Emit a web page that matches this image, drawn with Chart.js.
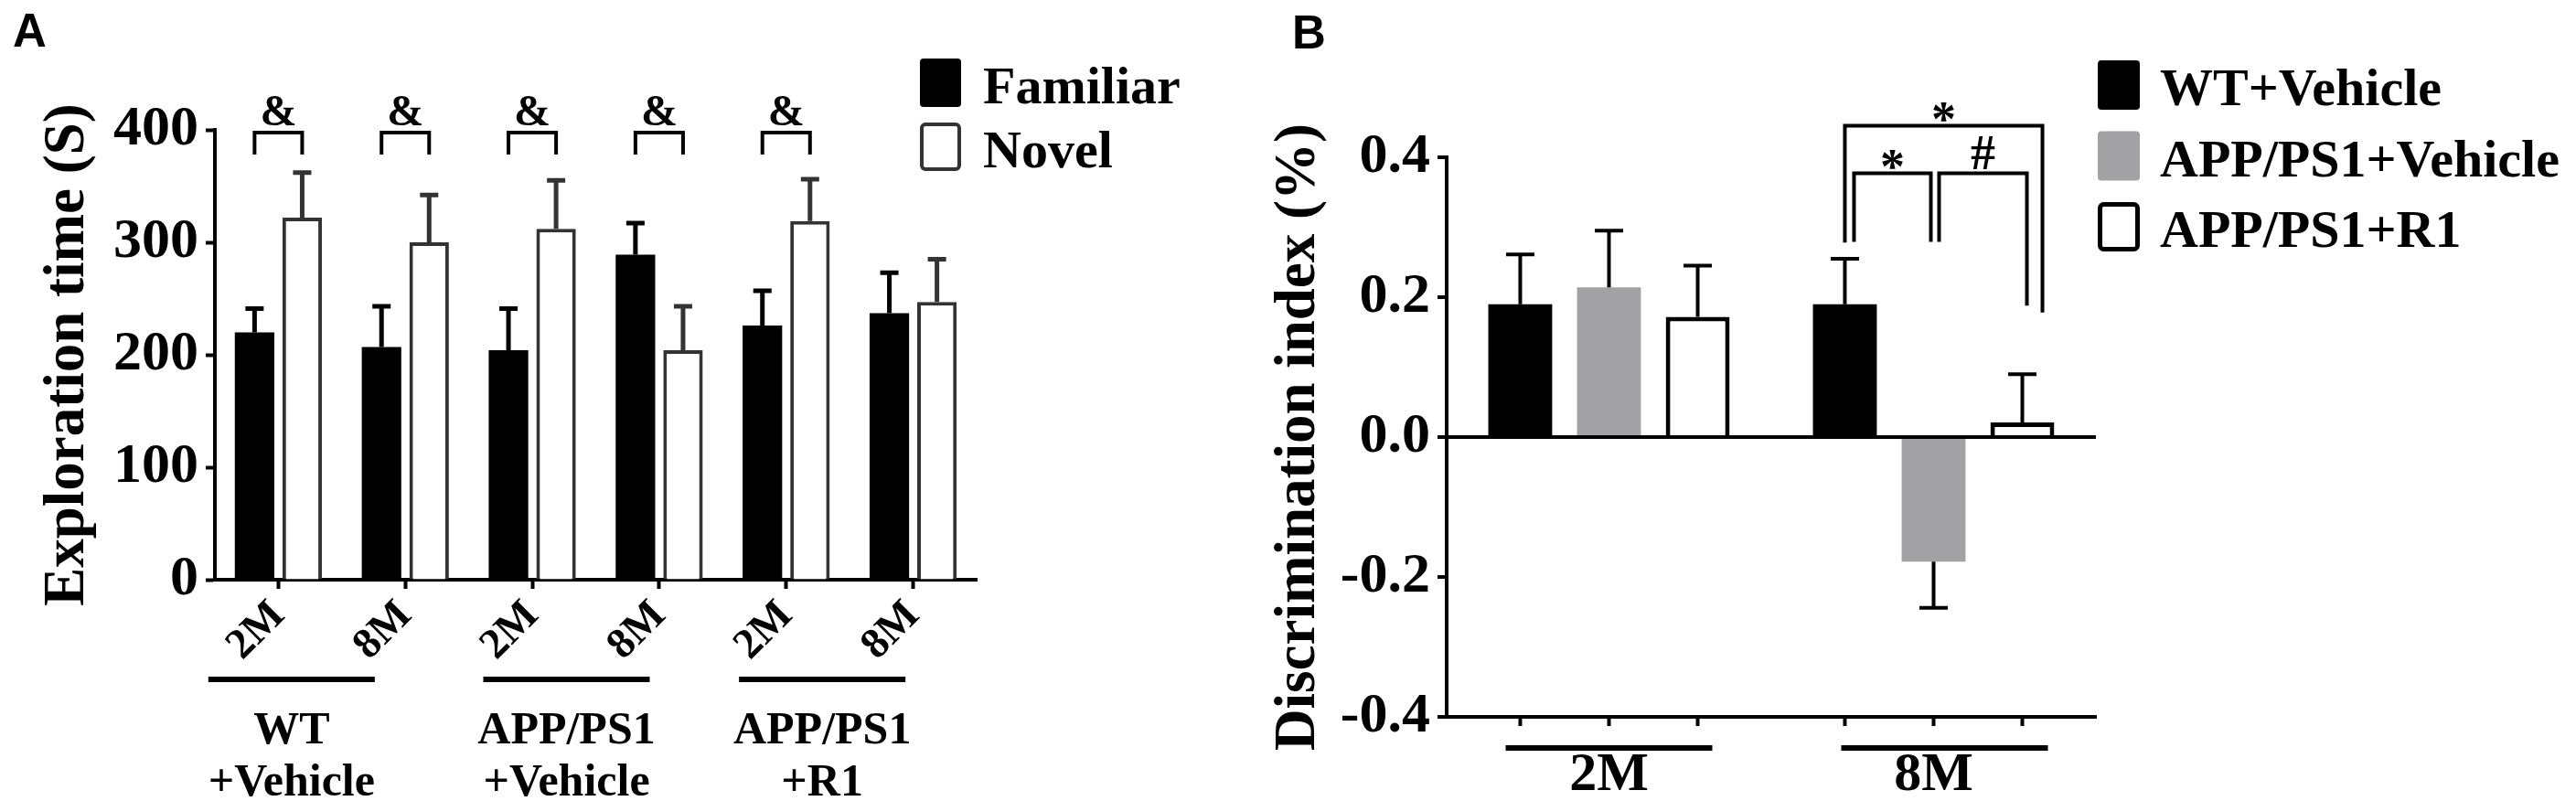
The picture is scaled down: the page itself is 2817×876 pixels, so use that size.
<!DOCTYPE html>
<html>
<head>
<meta charset="utf-8">
<title>Novel object recognition</title>
<script src="https://cdn.jsdelivr.net/npm/chart.js@4.4.1/dist/chart.umd.min.js"></script>
<style>
  html, body { margin: 0; padding: 0; background: #fff; }
  body { width: 2817px; height: 876px; position: relative; overflow: hidden; }
  canvas { position: absolute; top: 0; }
  #chartA { left: 0; }
  #chartB { left: 1370px; }
  .tag { position: absolute; font: bold 51px 'Liberation Sans', Arial, sans-serif; line-height: 1; }
</style>
</head>
<body>
<div class="tag" style="left:14px; top:8px;">A</div>
<div class="tag" style="left:1413px; top:10px;">B</div>
<canvas id="chartA" width="1370" height="876"></canvas>
<canvas id="chartB" width="1447" height="876"></canvas>
<script>
// ---- panel A: exploration time ----
const ageLabelsA = ['2M', '8M', '2M', '8M', '2M', '8M'];
const groupTextA = [['WT', '+Vehicle'], ['APP/PS1', '+Vehicle'], ['APP/PS1', '+R1']];
const familiarMean = [220, 207, 204, 289, 226, 237];
const familiarSem = [21, 36, 37, 28, 31, 36];
const novelMean = [322, 300, 312, 204, 319, 247];
const novelSem = [40, 42, 43, 39, 37, 38];
const yTicksA = [0, 100, 200, 300, 400];
const ampersandAt = [0, 1, 2, 3, 4];

// ---- panel B: discrimination index ----
const ageLabelsB = ['2M', '8M'];
const wtVehicle = [0.19, 0.19];
const wtVehicleSem = [0.071, 0.065];
const appVehicle = [0.214, -0.178];
const appVehicleSem = [0.081, 0.066];
const appR1 = [0.172, 0.021];
const appR1Sem = [0.073, 0.069];
const yTicksB = [-0.4, -0.2, 0, 0.2, 0.4];
// bracket ends are [dataset, category]
const sigMarksB = [
    { left: [0, 1], right: [2, 1], top: 0.445, legs: [0.278, 0.178], mark: '*' },
    { left: [0, 1], right: [1, 1], top: 0.377, legs: [0.279, 0.279], mark: '*' },
    { left: [1, 1], right: [2, 1], top: 0.377, legs: [0.279, 0.188], mark: '#' }
];

const SERIF = "'Liberation Serif', 'Times New Roman', serif";
Chart.defaults.font.family = SERIF;
Chart.defaults.font.weight = 'bold';
Chart.defaults.color = '#000';

// serif bold font object for chart options
const serif = size => ({ family: SERIF, weight: 'bold', size: size });

const errorBars = {
    id: 'errorBars',
    afterDatasetsDraw(chart, args, opts) {
        const ctx = chart.ctx;
        const y = chart.scales.y;
        chart.data.datasets.forEach((ds, i) => {
            if (!ds.errors) return;
            const meta = chart.getDatasetMeta(i);
            ctx.save();
            ctx.strokeStyle = ds.errorColor || '#000';
            ctx.lineWidth = opts.lineWidth;
            meta.data.forEach((bar, j) => {
                const v = ds.data[j];
                const tip = y.getPixelForValue(v >= 0 ? v + ds.errors[j] : v - ds.errors[j]);
                ctx.beginPath();
                ctx.moveTo(bar.x, bar.y);
                ctx.lineTo(bar.x, tip);
                ctx.moveTo(bar.x - opts.capWidth / 2, tip);
                ctx.lineTo(bar.x + opts.capWidth / 2, tip);
                ctx.stroke();
            });
            ctx.restore();
        });
    }
};

const boxLegend = {
    id: 'boxLegend',
    afterDraw(chart, args, opts) {
        const ctx = chart.ctx;
        ctx.save();
        ctx.font = `bold ${opts.fontSize}px ${SERIF}`;
        chart.data.datasets.forEach((ds, i) => {
            const top = opts.top + i * opts.rowStep;
            const bw = ds.legendBorder || 0;
            ctx.beginPath();
            ctx.roundRect(opts.x + bw / 2, top + bw / 2, opts.boxW - bw, opts.boxH - bw, 4);
            ctx.fillStyle = ds.backgroundColor;
            ctx.fill();
            if (bw) {
                ctx.lineWidth = bw;
                ctx.strokeStyle = ds.borderColor;
                ctx.stroke();
            }
            ctx.fillStyle = '#000';
            ctx.textBaseline = 'alphabetic';
            ctx.fillText(ds.label, opts.textX, top + opts.baseline);
        });
        ctx.restore();
    }
};

const groupAxis = {
    id: 'groupAxis',
    afterDraw(chart, args, opts) {
        const ctx = chart.ctx;
        const x = chart.scales.x;
        const base = chart.chartArea.bottom;
        ctx.save();
        ctx.strokeStyle = '#000';
        ctx.fillStyle = '#000';
        if (opts.barTicks) {
            ctx.lineWidth = 4;
            chart.data.datasets.forEach((ds, i) => {
                chart.getDatasetMeta(i).data.forEach(bar => {
                    ctx.beginPath();
                    ctx.moveTo(bar.x, base);
                    ctx.lineTo(bar.x, base + opts.barTicks);
                    ctx.stroke();
                });
            });
        }
        opts.spans.forEach((span, g) => {
            const mid = (x.getPixelForValue(span[0]) + x.getPixelForValue(span[1])) / 2 + opts.shift[g];
            ctx.lineWidth = 6;
            ctx.beginPath();
            ctx.moveTo(mid - opts.halfWidth, base + opts.lineY);
            ctx.lineTo(mid + opts.halfWidth, base + opts.lineY);
            ctx.stroke();
            if (opts.text) {
                ctx.font = `bold ${opts.fontSize}px ${SERIF}`;
                ctx.textAlign = 'center';
                ctx.textBaseline = 'alphabetic';
                opts.text[g].forEach((t, k) => ctx.fillText(t, mid, base + opts.textY[k]));
            }
        });
        ctx.restore();
    }
};

const sigBrackets = {
    id: 'sigBrackets',
    afterDraw(chart, args, opts) {
        const ctx = chart.ctx;
        const y = chart.scales.y;
        const barX = (ref) => chart.getDatasetMeta(ref[0]).data[ref[1]].x;
        ctx.save();
        ctx.strokeStyle = '#000';
        ctx.fillStyle = '#000';
        ctx.lineWidth = opts.lineWidth;
        ctx.font = `bold ${opts.fontSize}px ${SERIF}`;
        ctx.textAlign = 'center';
        opts.marks.forEach((m, i) => {
            const nudge = opts.nudge ? opts.nudge[i] : [0, 0];
            const x1 = barX(m.left) + nudge[0];
            const x2 = barX(m.right) + nudge[1];
            const yt = y.getPixelForValue(m.top);
            ctx.beginPath();
            ctx.moveTo(x1, y.getPixelForValue(m.legs[0]));
            ctx.lineTo(x1, yt);
            ctx.lineTo(x2, yt);
            ctx.lineTo(x2, y.getPixelForValue(m.legs[1]));
            ctx.stroke();
            const tm = ctx.measureText(m.mark);
            ctx.fillText(m.mark, (x1 + x2) / 2, yt - opts.gap - tm.actualBoundingBoxDescent);
        });
        ctx.restore();
    }
};

new Chart(document.getElementById('chartA'), {
    type: 'bar',
    data: {
        labels: ageLabelsA,
        datasets: [
            { label: 'Familiar', data: familiarMean, errors: familiarSem, errorColor: '#000',
              backgroundColor: '#000', borderColor: '#000', borderWidth: 0 },
            { label: 'Novel', data: novelMean, errors: novelSem, errorColor: '#333',
              backgroundColor: '#fff', borderColor: '#333', borderWidth: 4, legendBorder: 4 }
        ]
    },
    options: {
        responsive: false,
        animation: false,
        categoryPercentage: 0.75,
        barPercentage: 0.83,
        layout: { padding: { left: 0, top: 142, right: 302, bottom: 0 } },
        scales: {
            x: {
                grid: { drawOnChartArea: false, offset: false, tickLength: 10, tickWidth: 4, tickColor: '#000' },
                border: { color: '#000', width: 4 },
                ticks: { autoSkip: false, minRotation: 45, maxRotation: 45, padding: 2, color: '#000', font: serif(47) },
                afterFit: s => { s.height = 242; }
            },
            y: {
                min: 0,
                max: 400,
                afterBuildTicks: s => { s.ticks = yTicksA.map(v => ({ value: v })); },
                grid: { drawOnChartArea: false, tickLength: 10, tickWidth: 4, tickColor: '#000' },
                border: { color: '#000', width: 4 },
                ticks: { padding: 8, color: '#000', font: serif(62) },
                title: { display: true, text: 'Exploration time (S)', color: '#000', font: serif(63), padding: { top: 37, bottom: 0 } },
                afterFit: s => { s.width = 235; }
            }
        },
        plugins: {
            legend: { display: false },
            tooltip: { enabled: false },
            errorBars: { lineWidth: 5, capWidth: 20 },
            boxLegend: { x: 1006, top: 64, rowStep: 70, boxW: 45, boxH: 53, textX: 1075, baseline: 49, fontSize: 58 },
            groupAxis: { spans: [[0, 1], [2, 3], [4, 5]], shift: [-55, -32, -30], halfWidth: 91,
                         lineY: 109, text: groupTextA, textY: [179, 236], fontSize: 50 },
            sigBrackets: {
                marks: ampersandAt.map(k => ({ left: [0, k], right: [1, k], top: 397.5, legs: [378, 378], mark: '&' })),
                lineWidth: 4, fontSize: 48, gap: 8
            }
        }
    },
    plugins: [errorBars, boxLegend, groupAxis, sigBrackets]
});

new Chart(document.getElementById('chartB'), {
    type: 'bar',
    data: {
        labels: ageLabelsB,
        datasets: [
            { label: 'WT+Vehicle', data: wtVehicle, errors: wtVehicleSem,
              backgroundColor: '#000', borderColor: '#000', borderWidth: 0 },
            { label: 'APP/PS1+Vehicle', data: appVehicle, errors: appVehicleSem,
              backgroundColor: '#a2a2a5', borderColor: '#a2a2a5', borderWidth: 0 },
            { label: 'APP/PS1+R1', data: appR1, errors: appR1Sem,
              backgroundColor: '#fff', borderColor: '#000', borderWidth: 5, legendBorder: 5 }
        ]
    },
    options: {
        responsive: false,
        animation: false,
        categoryPercentage: 0.82,
        barPercentage: 0.72,
        layout: { padding: { left: 0, top: 172, right: 525, bottom: 0 } },
        scales: {
            x: {
                grid: { display: false },
                border: { color: '#000', width: 4 },
                ticks: { padding: 20, color: '#000', font: serif(60) },
                afterFit: s => { s.height = 92; }
            },
            y: {
                min: -0.4,
                max: 0.4,
                afterBuildTicks: s => { s.ticks = yTicksB.map(v => ({ value: v })); },
                grid: {
                    color: c => (c.tick && Math.abs(c.tick.value) < 1e-9 ? '#000' : 'rgba(0,0,0,0)'),
                    lineWidth: 4, tickLength: 10, tickWidth: 4, tickColor: '#000'
                },
                border: { color: '#000', width: 4 },
                ticks: { padding: 8, color: '#000', font: serif(62), callback: v => v.toFixed(1) },
                title: { display: true, text: 'Discrimination index (%)', color: '#000', font: serif(63), padding: { top: 13, bottom: 0 } },
                afterFit: s => { s.width = 212; }
            }
        },
        plugins: {
            legend: { display: false },
            tooltip: { enabled: false },
            errorBars: { lineWidth: 4, capWidth: 31 },
            boxLegend: { x: 924, top: 66, rowStep: 77.5, boxW: 46, boxH: 54, textX: 992, baseline: 49, fontSize: 58 },
            groupAxis: { spans: [[0, 0], [1, 1]], shift: [0, 12], halfWidth: 113, lineY: 34, barTicks: 10 },
            sigBrackets: { marks: sigMarksB, nudge: [[0, 22], [10, -3], [6, 5]], lineWidth: 4, fontSize: 54, gap: 5 }
        }
    },
    plugins: [errorBars, boxLegend, groupAxis, sigBrackets]
});
</script>
</body>
</html>
